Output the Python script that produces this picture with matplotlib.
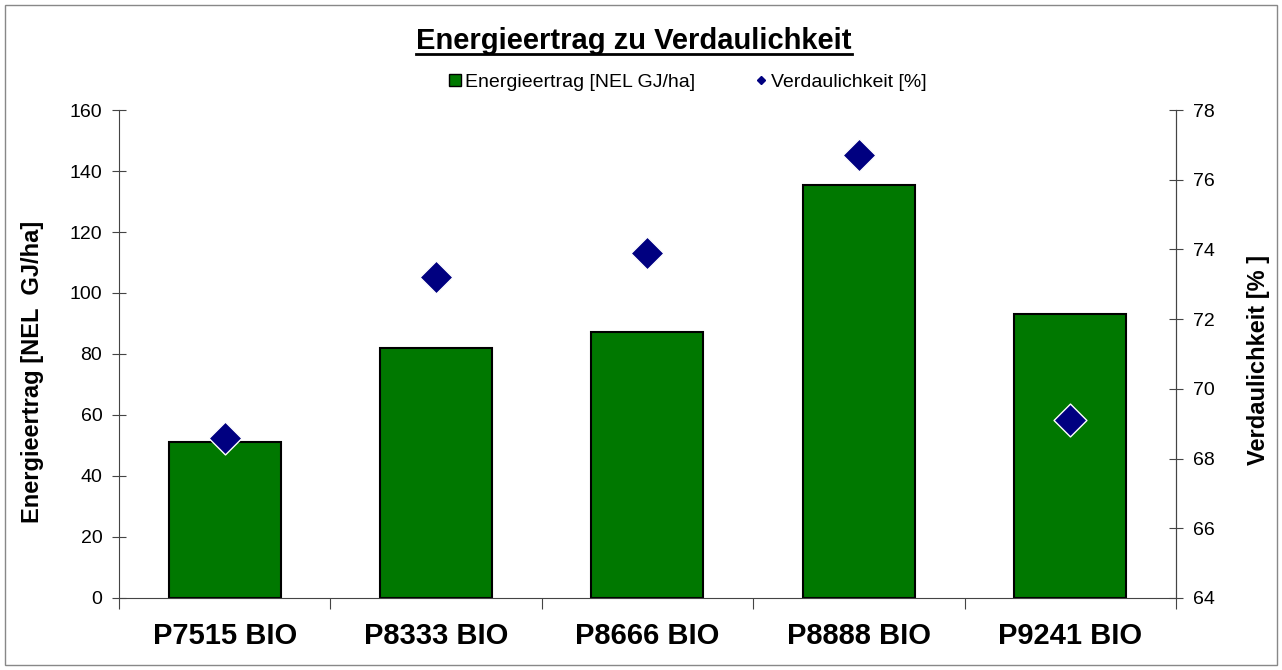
import matplotlib
matplotlib.use('Agg')
import matplotlib.pyplot as plt
from matplotlib.patches import Rectangle
from matplotlib.lines import Line2D

plt.rcParams['font.family'] = ['Liberation Sans', 'DejaVu Sans']

# data
sorten = ['P7515 BIO', 'P8333 BIO', 'P8666 BIO', 'P8888 BIO', 'P9241 BIO']
energieertrag = [51, 82, 87.2, 135.4, 93.1]
verdaulichkeit = [68.6, 73.2, 73.9, 76.7, 69.1]

fig = plt.figure(figsize=(12.82, 6.70), dpi=100)
ax1 = fig.add_axes([0.0928, 0.1075, 0.8245, 0.7283])
ax2 = ax1.twinx()

x = range(len(sorten))
ax1.bar(x, energieertrag, width=0.53, color='#007800', edgecolor='black', linewidth=1.5, zorder=2)
ax2.scatter(x, verdaulichkeit, marker='D', s=280, color='#000080', edgecolors='white', linewidths=1, zorder=3)

ax1.set_xlim(-0.5, len(sorten) - 0.5)
ax1.set_ylim(0, 160)
ax1.set_yticks(range(0, 161, 20))
ax2.set_ylim(64, 78)
ax2.set_yticks(range(64, 79, 2))

# category dividers as major ticks, names as minor ticks
ax1.set_xticks([i + 0.5 for i in range(-1, len(sorten))], minor=False)
ax1.set_xticklabels([''] * (len(sorten) + 1))
ax1.set_xticks(list(x), minor=True)
ax1.set_xticklabels(sorten, minor=True, fontsize=21, fontweight='bold')
ax1.tick_params(axis='x', which='minor', length=0, pad=17)
ax1.tick_params(axis='x', which='major', direction='out', length=8, color='#444444')
ax1.tick_params(axis='y', direction='inout', length=10, labelsize=14, pad=7, color='#444444')
ax2.tick_params(axis='y', direction='inout', length=10, labelsize=14, pad=7, color='#444444')

for a in (ax1, ax2):
    a.spines['top'].set_visible(False)
    for s in ('left', 'right', 'bottom'):
        a.spines[s].set_color('#444444')
ax2.spines['left'].set_visible(False)
ax2.spines['bottom'].set_visible(False)

ax1.set_ylabel('Energieertrag [NEL  GJ/ha]', fontsize=17, fontweight='bold')
ax1.yaxis.set_label_coords(-0.0706, 0.463)
ax2.set_ylabel('Verdaulichkeit [% ]', fontsize=17, fontweight='bold')
ax2.yaxis.set_label_coords(1.067, 0.488)

# title with underline
title = fig.text(0.4945, 0.939, 'Energieertrag zu Verdaulichkeit', ha='center', va='center',
                 fontsize=21, fontweight='bold')
fig.canvas.draw()
bb = title.get_window_extent().transformed(fig.transFigure.inverted())
fig.add_artist(Line2D([bb.x0, bb.x1], [bb.y0 + 0.002, bb.y0 + 0.002], color='black', linewidth=2,
                      transform=fig.transFigure))

handles = [
    Line2D([], [], marker='s', linestyle='none', markersize=9, markerfacecolor='#007800', markeredgecolor='black'),
    Line2D([], [], marker='D', linestyle='none', markersize=4.5, markerfacecolor='#000080', markeredgecolor='#000080'),
]
fig.legend(handles, ['Energieertrag [NEL GJ/ha]', 'Verdaulichkeit [%]'], loc='center',
           bbox_to_anchor=(0.535, 0.877), ncol=2, frameon=False, fontsize=14,
           handletextpad=0.05, columnspacing=2.85, handlelength=1.0)

fig.add_artist(Rectangle((0.004, 0.008), 0.992, 0.984, transform=fig.transFigure,
                         fill=False, edgecolor='#888888', linewidth=1))

plt.savefig('out.png', dpi=100)
